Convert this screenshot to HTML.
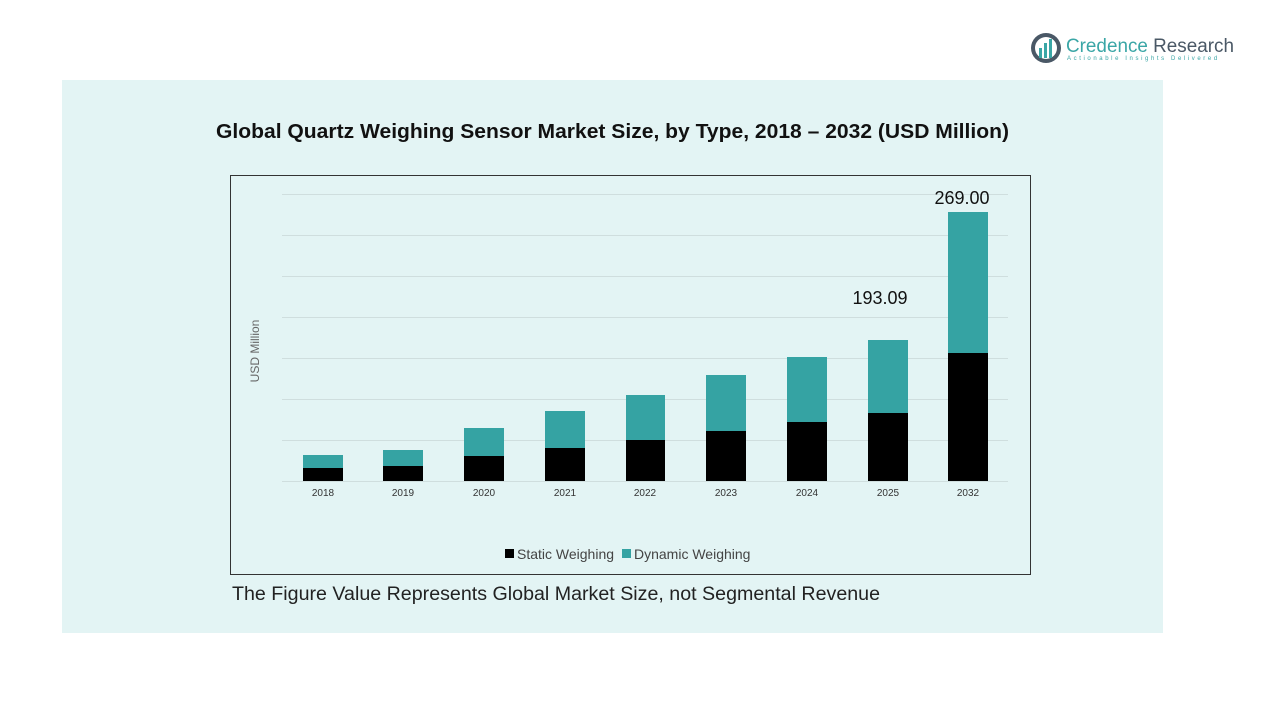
<!DOCTYPE html>
<html><head><meta charset="utf-8"><style>
body{margin:0;width:1267px;height:713px;background:#fff;font-family:"Liberation Sans",sans-serif;position:relative;overflow:hidden}
.panel{position:absolute;left:62px;top:80px;width:1101px;height:553px;background:#e3f4f4}
</style></head><body>
<div class="panel"></div>
<svg width="1267" height="713" style="position:absolute;left:0;top:0">
<g>
<circle cx="1046" cy="48" r="15" fill="#4a5866"/>
<circle cx="1046" cy="48" r="11" fill="#fff"/>
<rect x="1039" y="48" width="3" height="10" fill="#3aa6a6"/>
<rect x="1044" y="43" width="3" height="15" fill="#3aa6a6"/>
<rect x="1049" y="39" width="3" height="19" fill="#3aa6a6"/>
<text x="1066" y="52" font-size="19" fill="#3aa6a6" textLength="168" lengthAdjust="spacingAndGlyphs">Credence <tspan fill="#4a5866">Research</tspan></text>
<text x="1067" y="60" font-size="6" fill="#3aa6a6" letter-spacing="2.6">Actionable Insights Delivered</text>
</g>
<text x="216" y="138" font-size="20" font-weight="bold" fill="#111" textLength="793" lengthAdjust="spacingAndGlyphs">Global Quartz Weighing Sensor Market Size, by Type, 2018 – 2032 (USD Million)</text>
<rect x="230.5" y="175.5" width="800" height="399" fill="none" stroke="#333" stroke-width="1"/>
<g stroke="#cfdede" stroke-width="1">
<line x1="282" x2="1008" y1="194.5" y2="194.5"/><line x1="282" x2="1008" y1="235.5" y2="235.5"/>
<line x1="282" x2="1008" y1="276.5" y2="276.5"/><line x1="282" x2="1008" y1="317.5" y2="317.5"/>
<line x1="282" x2="1008" y1="358.5" y2="358.5"/><line x1="282" x2="1008" y1="399.5" y2="399.5"/>
<line x1="282" x2="1008" y1="440.5" y2="440.5"/><line x1="282" x2="1008" y1="481.5" y2="481.5"/>
</g>
<g fill="#35a3a3">
<rect x="303" y="455" width="40" height="13"/><rect x="383" y="450" width="40" height="16"/>
<rect x="464" y="428" width="40" height="28"/><rect x="545" y="411" width="40" height="37"/>
<rect x="626" y="395" width="39" height="45"/><rect x="706" y="375" width="40" height="56"/>
<rect x="787" y="357" width="40" height="65"/><rect x="868" y="340" width="40" height="73"/>
<rect x="948" y="212" width="40" height="141"/>
</g>
<g fill="#000">
<rect x="303" y="468" width="40" height="13"/><rect x="383" y="466" width="40" height="15"/>
<rect x="464" y="456" width="40" height="25"/><rect x="545" y="448" width="40" height="33"/>
<rect x="626" y="440" width="39" height="41"/><rect x="706" y="431" width="40" height="50"/>
<rect x="787" y="422" width="40" height="59"/><rect x="868" y="413" width="40" height="68"/>
<rect x="948" y="353" width="40" height="128"/>
</g>
<g font-size="10" fill="#333" text-anchor="middle">
<text x="323" y="496">2018</text><text x="403" y="496">2019</text><text x="484" y="496">2020</text>
<text x="565" y="496">2021</text><text x="645" y="496">2022</text><text x="726" y="496">2023</text>
<text x="807" y="496">2024</text><text x="888" y="496">2025</text><text x="968" y="496">2032</text>
</g>
<text x="880" y="304" font-size="18" text-anchor="middle" fill="#111">193.09</text>
<text x="962" y="204" font-size="18" text-anchor="middle" fill="#111">269.00</text>
<text transform="translate(259,351) rotate(-90)" font-size="12" fill="#666" text-anchor="middle">USD Million</text>
<rect x="505" y="549" width="9" height="9" fill="#000"/>
<text x="517" y="559" font-size="14" fill="#444">Static Weighing</text>
<rect x="622" y="549" width="9" height="9" fill="#35a3a3"/>
<text x="634" y="559" font-size="14" fill="#444">Dynamic Weighing</text>
<text x="232" y="600" font-size="19" fill="#222" textLength="648" lengthAdjust="spacingAndGlyphs">The Figure Value Represents Global Market Size, not Segmental Revenue</text>
</svg>
</body></html>
